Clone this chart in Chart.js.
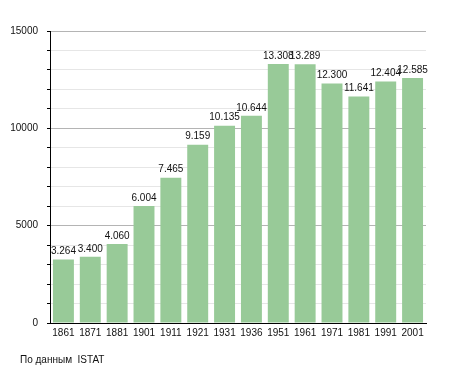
<!DOCTYPE html>
<html>
<head>
<meta charset="utf-8">
<script src="https://cdn.jsdelivr.net/npm/chart.js@4/dist/chart.umd.min.js"></script>
<style>
  html, body { margin: 0; padding: 0; background: #fff; }
  #wrap { position: relative; width: 455px; height: 373px; }
  #note { position: absolute; left: 20px; top: 354px; font: 10px "Liberation Sans", Arial, sans-serif; color: #111; }
</style>
</head>
<body>
<div id="wrap">
  <canvas id="popChart" width="455" height="373"></canvas>
  <div id="note">По данным&nbsp; ISTAT</div>
</div>
<script>
// census years and population
const years = ["1861", "1871", "1881", "1901", "1911", "1921", "1931", "1936", "1951", "1961", "1971", "1981", "1991", "2001"];
const population = [3264, 3400, 4060, 6004, 7465, 9159, 10135, 10644, 13308, 13289, 12300, 11641, 12404, 12585];
const yTicks = [0, 5000, 10000, 15000];

function fmt(v) {
  return String(v).replace(/\B(?=(\d{3})+(?!\d))/g, ".");
}

// numbers above the bars
const barLabels = {
  id: "barLabels",
  afterDatasetsDraw(chart) {
    const ctx = chart.ctx;
    const meta = chart.getDatasetMeta(0);
    ctx.save();
    ctx.font = '10px "Liberation Sans", Arial, sans-serif';
    ctx.fillStyle = "#111";
    ctx.textAlign = "center";
    ctx.textBaseline = "bottom";
    meta.data.forEach((bar, i) => {
      ctx.fillText(fmt(population[i]), bar.x, bar.y - 3);
    });
    ctx.restore();
  }
};

new Chart(document.getElementById("popChart"), {
  type: "bar",
  data: {
    labels: years,
    datasets: [{
      data: population,
      backgroundColor: "#98ca98",
      borderWidth: 0,
      categoryPercentage: 1,
      barPercentage: 0.78
    }]
  },
  options: {
    responsive: false,
    animation: false,
    layout: { padding: { left: 0, top: 31, right: 29, bottom: 30 } },
    plugins: {
      legend: { display: false },
      tooltip: { enabled: false }
    },
    scales: {
      x: {
        grid: { display: false, drawTicks: false },
        border: { color: "#000", width: 1 },
        ticks: {
          color: "#111",
          font: { family: "Liberation Sans", size: 10 },
          padding: 4,
          maxRotation: 0,
          autoSkip: false
        },
        afterFit(scale) { scale.height = 20; }
      },
      y: {
        min: 0,
        max: 15000,
        afterFit(scale) { scale.width = 50; },
        border: { color: "#000", width: 1 },
        grid: {
          color: ctx => (ctx.tick && ctx.tick.value % 5000 === 0) ? "#b4b4b4" : "#e6e6e6",
          tickColor: "#000",
          tickLength: 3,
          lineWidth: 1
        },
        ticks: {
          stepSize: 1000,
          color: "#111",
          font: { family: "Liberation Sans", size: 10 },
          padding: 9,
          callback: v => yTicks.includes(v) ? String(v) : ""
        }
      }
    }
  },
  plugins: [barLabels]
});
</script>
</body>
</html>
